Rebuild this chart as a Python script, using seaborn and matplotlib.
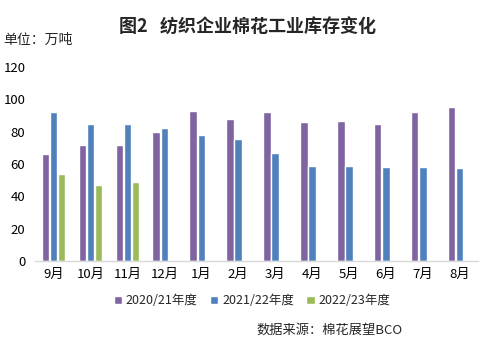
import matplotlib
matplotlib.use("Agg")
import matplotlib.pyplot as plt
import seaborn as sns
import pandas as pd
from matplotlib.patches import Patch

months = ["9月", "10月", "11月", "12月", "1月", "2月", "3月", "4月", "5月", "6月", "7月", "8月"]
s2021 = [66, 72, 72, 80, 93, 88, 92, 86, 86.5, 84.5, 92, 95.5]
s2122 = [92, 84.5, 85, 82, 78, 75.5, 66.5, 58.5, 59, 58, 58, 57.5]
s2223 = [54, 47, 49, None, None, None, None, None, None, None, None, None]
series_names = ["2020/21年度", "2021/22年度", "2022/23年度"]
colors = ["#8064A2", "#4F81BD", "#9BBB59"]

rows = []
for name, vals in zip(series_names, [s2021, s2122, s2223]):
    for m, v in zip(months, vals):
        rows.append({"month": m, "series": name, "value": v})
df = pd.DataFrame(rows)

sns.set_theme(style="white")
plt.rcParams["font.family"] = ["Noto Sans CJK SC", "DejaVu Sans"]

fig = plt.figure(figsize=(4.94, 3.43), dpi=100)
ax = fig.add_axes([0.071, 0.239, 0.897, 0.566])
sns.barplot(data=df, x="month", y="value", hue="series", order=months,
            hue_order=series_names, palette=colors, width=0.66, gap=0.08,
            ax=ax, legend=False, saturation=1, err_kws={"linewidth": 0})

ax.set_ylim(0, 120)
ax.set_yticks(range(0, 121, 20))
ax.set_xlim(-0.5, 11.5)
ax.set_xlabel("")
ax.set_ylabel("")
for s in ["top", "right", "left"]:
    ax.spines[s].set_visible(False)
ax.spines["bottom"].set_color("#D9D9D9")
ax.spines["bottom"].set_linewidth(1)
ax.tick_params(axis="both", length=0, labelsize=9.5, colors="#000000")
ax.tick_params(axis="y", pad=7)
ax.tick_params(axis="x", pad=5)

handles = [Patch(facecolor=c, label=n) for c, n in zip(colors, series_names)]
fig.legend(handles=handles, loc="center", bbox_to_anchor=(252 / 494, 1 - 301 / 343),
           ncol=3, frameon=False, fontsize=9, handlelength=0.65, handleheight=0.65,
           handletextpad=0.3, columnspacing=1.0)

fig.text(247 / 494, 1 - 27 / 343, "图2   纺织企业棉花工业库存变化", ha="center", va="center",
         fontsize=13, fontweight="bold")
fig.text(3 / 494, 1 - 40 / 343, "单位：万吨", ha="left", va="center", fontsize=10)
fig.text(403 / 494, 1 - 330 / 343, "数据来源：棉花展望BCO", ha="right", va="center", fontsize=9.5)

fig.savefig("out.png", dpi=100)
